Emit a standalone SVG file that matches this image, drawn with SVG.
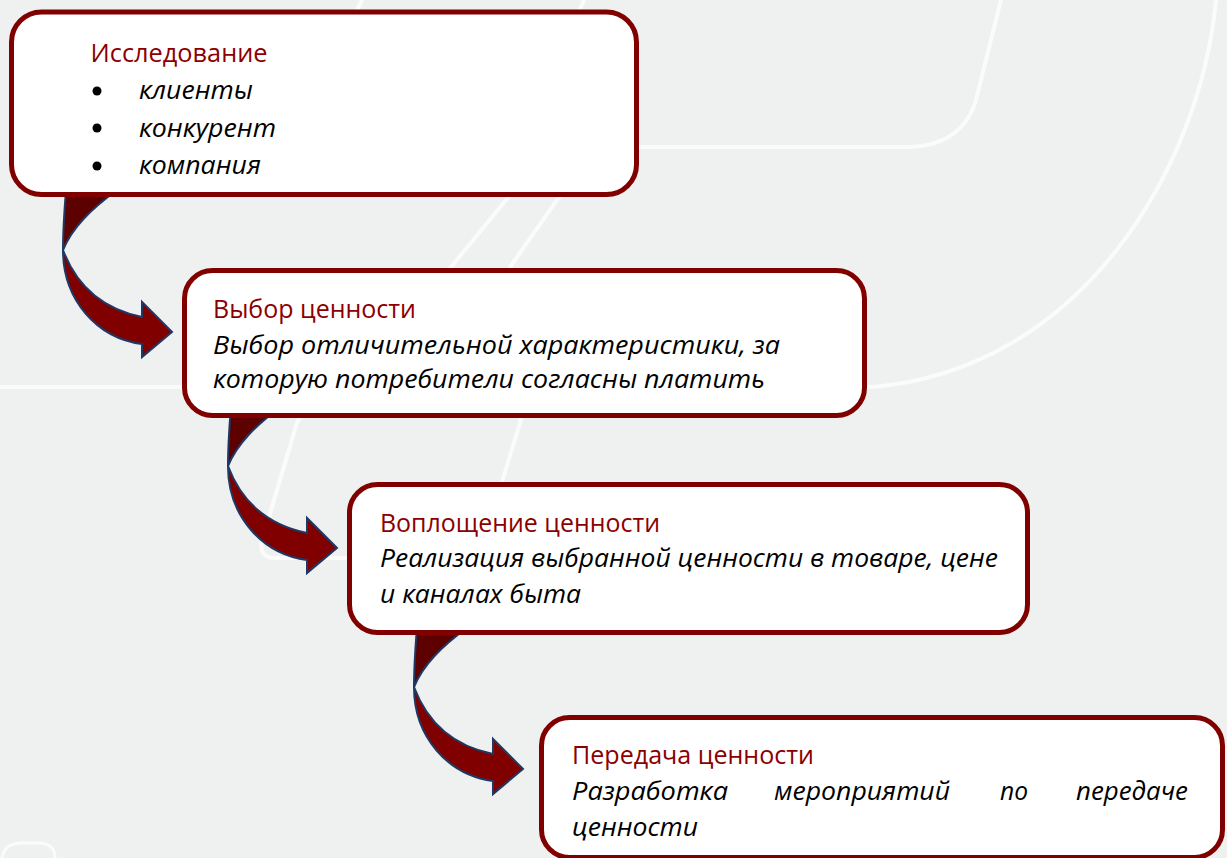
<svg xmlns="http://www.w3.org/2000/svg" width="1227" height="858" viewBox="0 0 1227 858">
<style>
.bg{fill:#eff0f0}
.deco{fill:none;stroke:#fbfbfb;stroke-width:4;stroke-linecap:round}
.box{fill:#ffffff;stroke:#800000;stroke-width:5}
.title{font-family:"Open Sans","Noto Sans",sans-serif;font-size:25px;fill:#8b0000}
.body{font-family:"Open Sans","Noto Sans",sans-serif;font-size:25px;font-style:italic;fill:#000000}
.arrowDark{fill:#5c0000;stroke:#1f3864;stroke-width:2;stroke-linejoin:round}
.arrowRed{fill:#800000;stroke:#1f3864;stroke-width:2;stroke-linejoin:miter}
</style>
<defs>
<g id="curvedArrow">
<path class="arrowDark" d="M66,190 C64,215 63,235 63,250 C72,228 90,210 117,190 Z"/>
<path class="arrowRed" d="M63,250 C63,300 97,338 142,344 L142,357 L172,332 L142,302 L142,317 C108,310 78,290 63,250 Z"/>
</g>
</defs>
<rect class="bg" x="0" y="0" width="1227" height="858"/>
<g id="background-lines">
<path class="deco" d="M1001,0 L976,100 Q962,147 905,147 L600,147"/>
<path class="deco" d="M1216,0 C1200,170 1080,370 872,387 L0,387"/>
<path class="deco" d="M548,150 L506,200 L451,267 C400,330 320,360 297,423 L262,540 Q258,558 276,558 L360,558"/>
<path class="deco" d="M600,150 L557,200 L510,267 C530,330 530,380 520,423 L498,495"/>
<path class="deco" d="M362,0 L355,14"/>
<path class="deco" d="M584,0 L578,14"/>
<path fill="none" stroke="#fbfbfb" stroke-width="3" d="M2,858 Q4,844 20,843 L40,843 Q55,844 55,858"/>
</g>
<g id="connectors">
<use href="#curvedArrow"/>
<use href="#curvedArrow" transform="translate(165,216)"/>
<use href="#curvedArrow" transform="translate(351,437)"/>
</g>
<g id="node-research">
<rect class="box" x="11.5" y="12" width="625" height="182.5" rx="30"/>
<text class="title" x="90.5" y="62" textLength="177" lengthAdjust="spacingAndGlyphs">Исследование</text>
<circle cx="97" cy="91" r="4.5" fill="#000"/>
<circle cx="97" cy="128" r="4.5" fill="#000"/>
<circle cx="97" cy="166" r="4.5" fill="#000"/>
<text class="body" x="139" y="99" textLength="114" lengthAdjust="spacingAndGlyphs">клиенты</text>
<text class="body" x="139" y="137" textLength="137" lengthAdjust="spacingAndGlyphs">конкурент</text>
<text class="body" x="139" y="174" textLength="122" lengthAdjust="spacingAndGlyphs">компания</text>
</g>
<g id="node-value-choice">
<rect class="box" x="184.5" y="270.5" width="680" height="145" rx="28"/>
<text class="title" x="213" y="318" textLength="203" lengthAdjust="spacingAndGlyphs">Выбор ценности</text>
<text class="body" x="213" y="354" textLength="567" lengthAdjust="spacingAndGlyphs">Выбор отличительной характеристики, за</text>
<text class="body" x="213" y="388" textLength="552" lengthAdjust="spacingAndGlyphs">которую потребители согласны платить</text>
</g>
<g id="node-value-embodiment">
<rect class="box" x="349.5" y="484.5" width="678" height="148" rx="28"/>
<text class="title" x="380" y="532" textLength="280" lengthAdjust="spacingAndGlyphs">Воплощение ценности</text>
<text class="body" x="380" y="567" textLength="618" lengthAdjust="spacingAndGlyphs">Реализация выбранной ценности в товаре, цене</text>
<text class="body" x="380" y="603" textLength="201" lengthAdjust="spacingAndGlyphs">и каналах быта</text>
</g>
<g id="node-value-delivery">
<rect class="box" x="541.5" y="717.5" width="681" height="140" rx="28"/>
<text class="title" x="572" y="764" textLength="242" lengthAdjust="spacingAndGlyphs">Передача ценности</text>
<text class="body" y="800"><tspan x="572" textLength="156" lengthAdjust="spacingAndGlyphs">Разработка</tspan><tspan x="774" textLength="176" lengthAdjust="spacingAndGlyphs">мероприятий</tspan><tspan x="1000" textLength="28" lengthAdjust="spacingAndGlyphs">по</tspan><tspan x="1076" textLength="112" lengthAdjust="spacingAndGlyphs">передаче</tspan></text>
<text class="body" x="572" y="836" textLength="126" lengthAdjust="spacingAndGlyphs">ценности</text>
</g>
</svg>
